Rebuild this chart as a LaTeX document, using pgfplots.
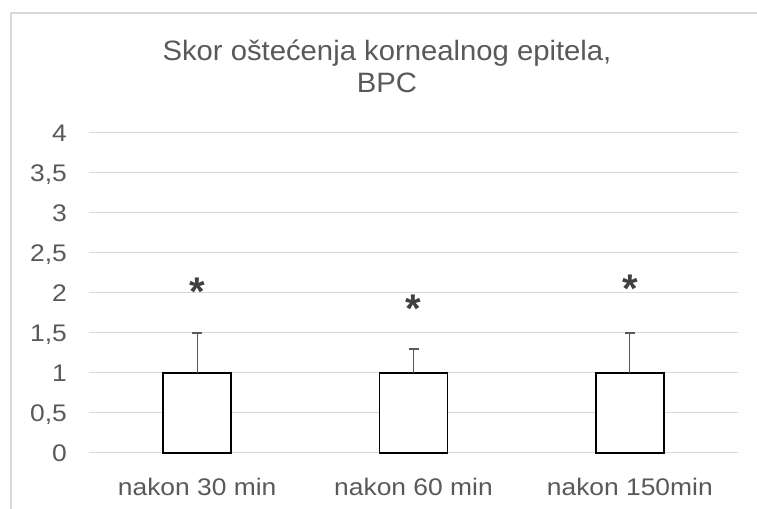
\documentclass[border=0pt]{standalone}
\usepackage{fontspec}
\setmainfont{Liberation Sans}
\usepackage{graphicx}
\usepackage{pgfplots}
\pgfplotsset{compat=1.18}
\definecolor{txt}{HTML}{595959}
\definecolor{gridc}{HTML}{D9D9D9}
\definecolor{errc}{HTML}{595959}
\definecolor{astc}{HTML}{404040}
\newcommand\hs[1]{\scalebox{1.1}[1]{#1}}
\newcommand\htl[1]{\scalebox{1.045}[1]{#1}}
\begin{document}
\begin{tikzpicture}
\useasboundingbox (0,0) rectangle (757bp,509bp);
\fill[white] (0,0) rectangle (757bp,509bp);
\draw[gridc, line width=1.5bp] (11bp,0) -- (11bp,496bp) -- (757bp,496bp);
\begin{axis}[
  at={(89bp,56bp)}, anchor=south west,
  width=649bp, height=320bp, scale only axis,
  xmin=-0.5, xmax=2.5, ymin=0, ymax=4,
  axis line style={draw=none},
  xtick={0,1,2},
  xticklabels={{\hs{nakon 30 min}},{\hs{nakon 60 min}},{\hs{nakon 150min}}},
  ytick={0,0.5,1,1.5,2,2.5,3,3.5,4},
  yticklabels={{\hs{0}},{\hs{0,5}},{\hs{1}},{\hs{1,5}},{\hs{2}},{\hs{2,5}},{\hs{3}},{\hs{3,5}},{\hs{4}}},
  major tick length=0pt,
  ymajorgrids, grid style={gridc, line width=1bp},
  tick label style={font=\fontsize{24bp}{28bp}\selectfont, text=txt, inner sep=0pt},
  yticklabel style={anchor=base east, xshift=-22bp, yshift=-8.6bp},
  xticklabel style={anchor=base, yshift=-42bp},
  title={\htl{Skor oštećenja kornealnog epitela,}\\\htl{BPC}},
  title style={at={(0.5,1)}, anchor=north, yshift=87bp, xshift=-26.5bp, align=center,
    font=\fontsize{28bp}{32bp}\selectfont, text=txt, inner sep=0pt},
  clip=false,
]
\addplot[ybar, bar shift=0pt, bar width=68bp, draw=black, fill=white, line width=1.5bp,
  error bars/.cd, y dir=plus, y explicit,
  error bar style={errc, line width=1.3bp},
  error mark options={errc, line width=1.3bp, rotate=90, mark size=5bp}]
  coordinates {(0,1) +- (0,0.5) (1,1) +- (0,0.3) (2,1) +- (0,0.5)};
\addplot[only marks, mark=none, nodes near coords, point meta=explicit symbolic,
  nodes near coords style={font=\bfseries\fontsize{40bp}{40bp}\selectfont, text=astc, anchor=base, yshift=-18bp, inner sep=0pt}]
  coordinates {(0,2.07) [*] (1,1.86) [*] (2,2.1) [*]};
\end{axis}
\end{tikzpicture}
\end{document}
